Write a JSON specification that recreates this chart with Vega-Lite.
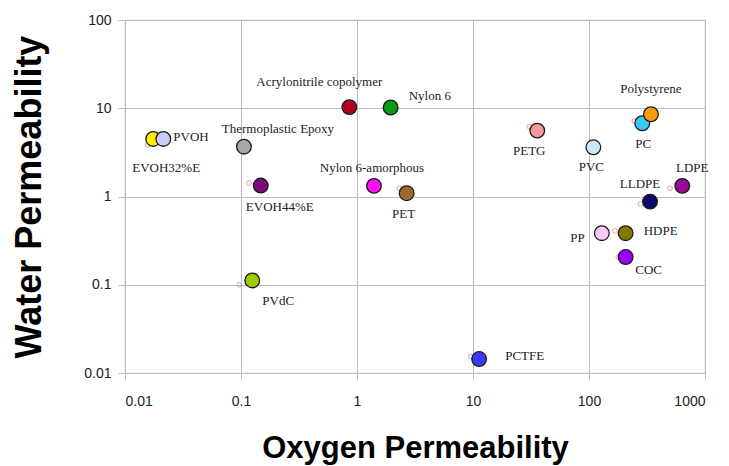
{
  "$schema": "https://vega.github.io/schema/vega-lite/v6.json",
  "autosize": "none",
  "width": 580,
  "height": 353,
  "padding": {"left": 125, "top": 20, "right": 24, "bottom": 93},
  "background": "white",
  "config": {
    "view": {"stroke": "#bdbdbd", "strokeWidth": 1.2},
    "axis": {
      "gridColor": "#bdbdbd",
      "gridWidth": 1,
      "domainColor": "#bdbdbd",
      "tickColor": "#bdbdbd",
      "labelFont": "Liberation Sans",
      "labelFontSize": 14,
      "labelColor": "#222222",
      "titleFont": "Liberation Sans",
      "titleFontWeight": "bold",
      "titleColor": "#000000"
    },
    "text": {"font": "Liberation Serif", "fontSize": 13, "color": "#222222", "baseline": "middle"}
  },
  "datasets": {
    "pts": [
      {"name": "EVOH32%E", "o2": 0.0175, "h2o": 4.49},
      {"name": "PVOH", "o2": 0.0214, "h2o": 4.49},
      {"name": "Thermoplastic Epoxy", "o2": 0.106, "h2o": 3.67},
      {"name": "EVOH44%E", "o2": 0.148, "h2o": 1.33},
      {"name": "Acrylonitrile copolymer", "o2": 0.859, "h2o": 10.3},
      {"name": "Nylon 6", "o2": 1.95, "h2o": 10.2},
      {"name": "Nylon 6-amorphous", "o2": 1.40, "h2o": 1.32},
      {"name": "PET", "o2": 2.68, "h2o": 1.09},
      {"name": "PETG", "o2": 35.8, "h2o": 5.58},
      {"name": "PVC", "o2": 109, "h2o": 3.61},
      {"name": "PC", "o2": 288, "h2o": 6.76},
      {"name": "Polystyrene", "o2": 342, "h2o": 8.55},
      {"name": "LDPE", "o2": 637, "h2o": 1.32},
      {"name": "LLDPE", "o2": 336, "h2o": 0.875},
      {"name": "PP", "o2": 129, "h2o": 0.384},
      {"name": "HDPE", "o2": 207, "h2o": 0.384},
      {"name": "COC", "o2": 207, "h2o": 0.206},
      {"name": "PVdC", "o2": 0.125, "h2o": 0.112},
      {"name": "PCTFE", "o2": 11.3, "h2o": 0.0144}
    ],
    "ref": [
      {"o2": 0.0157, "h2o": 3.84},
      {"o2": 0.117, "h2o": 1.42},
      {"o2": 0.0966, "h2o": 0.0998},
      {"o2": 2.32, "h2o": 1.24},
      {"o2": 30.6, "h2o": 6.19},
      {"o2": 246, "h2o": 7.18},
      {"o2": 499, "h2o": 1.24},
      {"o2": 279, "h2o": 0.824},
      {"o2": 167, "h2o": 0.408},
      {"o2": 179, "h2o": 0.206},
      {"o2": 9.55, "h2o": 0.0154}
    ]
  },
  "layer": [
    {
      "data": {"name": "ref"},
      "mark": {"type": "point", "shape": "circle", "size": 22, "filled": false, "stroke": "#e07a7a", "strokeWidth": 1},
      "encoding": {
        "x": {
          "field": "o2", "type": "quantitative",
          "scale": {"type": "log", "domain": [0.01, 1000], "nice": false},
          "axis": {
            "values": [0.01, 0.1, 1, 10, 100, 1000],
            "labelExpr": "format(datum.value, '~g')",
            "tickSize": 7, "labelPadding": 14,
            "title": "Oxygen Permeability", "titleFontSize": 31, "titlePadding": 25
          }
        },
        "y": {
          "field": "h2o", "type": "quantitative",
          "scale": {"type": "log", "domain": [0.01, 100], "nice": false},
          "axis": {
            "values": [0.01, 0.1, 1, 10, 100],
            "labelExpr": "format(datum.value, '~g')",
            "tickSize": 7, "labelPadding": 7,
            "title": "Water Permeability", "titleFontSize": 36, "titlePadding": 35
          }
        }
      }
    },
    {
      "data": {"name": "pts"},
      "mark": {"type": "circle", "size": 215, "opacity": 1, "stroke": "#1a1a1a", "strokeWidth": 1.3},
      "encoding": {
        "x": {"field": "o2", "type": "quantitative"},
        "y": {"field": "h2o", "type": "quantitative"},
        "color": {
          "field": "name", "type": "nominal", "legend": null,
          "scale": {
            "domain": ["EVOH32%E", "PVOH", "Thermoplastic Epoxy", "EVOH44%E", "Acrylonitrile copolymer", "Nylon 6", "Nylon 6-amorphous", "PET", "PETG", "PVC", "PC", "Polystyrene", "LDPE", "LLDPE", "PP", "HDPE", "COC", "PVdC", "PCTFE"],
            "range": ["#f8f000", "#c8cdf5", "#a8a8a8", "#7a0a78", "#b00020", "#0a9a12", "#ff10f0", "#a4682e", "#f59a98", "#cde8f8", "#3ccaf5", "#ff9a00", "#9a0a98", "#0a0a6a", "#ffc8f5", "#807a00", "#9a00ff", "#98cc00", "#3a3aff"]
          }
        }
      }
    },
    {
      "data": {"name": "pts"},
      "encoding": {
        "x": {"field": "o2", "type": "quantitative"},
        "y": {"field": "h2o", "type": "quantitative"},
        "text": {"field": "name"}
      },
      "layer": [
        {"transform": [{"filter": "datum.name === 'Acrylonitrile copolymer'"}], "mark": {"type": "text", "align": "center", "dx": -30, "dy": -25}},
        {"transform": [{"filter": "datum.name === 'Thermoplastic Epoxy'"}], "mark": {"type": "text", "align": "center", "dx": 34, "dy": -18}},
        {"transform": [{"filter": "datum.name === 'PVOH'"}], "mark": {"type": "text", "align": "left", "dx": 10, "dy": -2}},
        {"transform": [{"filter": "datum.name === 'EVOH32%E'"}], "mark": {"type": "text", "align": "center", "dx": 13, "dy": 29}},
        {"transform": [{"filter": "datum.name === 'EVOH44%E'"}], "mark": {"type": "text", "align": "center", "dx": 19, "dy": 21}},
        {"transform": [{"filter": "datum.name === 'Nylon 6'"}], "mark": {"type": "text", "align": "left", "dx": 18, "dy": -11}},
        {"transform": [{"filter": "datum.name === 'Nylon 6-amorphous'"}], "mark": {"type": "text", "align": "center", "dx": -2, "dy": -18}},
        {"transform": [{"filter": "datum.name === 'PET'"}], "mark": {"type": "text", "align": "center", "dx": -3, "dy": 21}},
        {"transform": [{"filter": "datum.name === 'PETG'"}], "mark": {"type": "text", "align": "center", "dx": -8, "dy": 20}},
        {"transform": [{"filter": "datum.name === 'PVC'"}], "mark": {"type": "text", "align": "center", "dx": -2, "dy": 20}},
        {"transform": [{"filter": "datum.name === 'Polystyrene'"}], "mark": {"type": "text", "align": "center", "dx": 0, "dy": -25}},
        {"transform": [{"filter": "datum.name === 'PC'"}], "mark": {"type": "text", "align": "center", "dx": 1, "dy": 21}},
        {"transform": [{"filter": "datum.name === 'LDPE'"}], "mark": {"type": "text", "align": "center", "dx": 10, "dy": -18}},
        {"transform": [{"filter": "datum.name === 'LLDPE'"}], "mark": {"type": "text", "align": "center", "dx": -10, "dy": -18}},
        {"transform": [{"filter": "datum.name === 'HDPE'"}], "mark": {"type": "text", "align": "left", "dx": 18, "dy": -2}},
        {"transform": [{"filter": "datum.name === 'PP'"}], "mark": {"type": "text", "align": "right", "dx": -17, "dy": 5}},
        {"transform": [{"filter": "datum.name === 'COC'"}], "mark": {"type": "text", "align": "center", "dx": 23, "dy": 13}},
        {"transform": [{"filter": "datum.name === 'PVdC'"}], "mark": {"type": "text", "align": "center", "dx": 26, "dy": 21}},
        {"transform": [{"filter": "datum.name === 'PCTFE'"}], "mark": {"type": "text", "align": "left", "dx": 26, "dy": -3}}
      ]
    }
  ]
}
